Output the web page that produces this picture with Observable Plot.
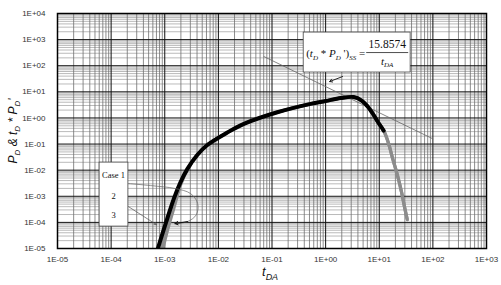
<!DOCTYPE html>
<html><head><meta charset="utf-8">
<script src="https://cdn.jsdelivr.net/npm/d3@7"></script>
<script src="https://cdn.jsdelivr.net/npm/@observablehq/plot@0.6"></script>
<style>body{margin:0;background:#fff} svg{display:block}</style>
</head><body><div id="chart"></div>
<script>
// ---- tick values ----
const xMajor = [1e-5, 1e-4, 1e-3, 1e-2, 1e-1, 1, 1e1, 1e2, 1e3];
const yMajor = [1e-5, 1e-4, 1e-3, 1e-2, 1e-1, 1, 1e1, 1e2, 1e3, 1e4];
const minorSteps = [2, 3, 4, 5, 6, 7, 8, 9];

// ---- Case 1 (black) ----
const case1T = [6.73e-4, 8.36e-4, 1.114e-3, 1.479e-3, 1.972e-3, 2.63e-3, 4.04e-3, 6.21e-3, 1.466e-2, 2.99e-2, 0.1256, 0.525, 1.0, 1.905, 3.33, 4.70, 6.08, 7.54, 9.33, 12.08];
const case1Y = [4.9e-6, 2.19e-5, 1.40e-4, 8.17e-4, 3.50e-3, 1.10e-2, 3.79e-2, 9.16e-2, 0.276, 0.594, 1.65, 3.47, 4.45, 5.78, 6.32, 4.64, 2.74, 1.48, 0.728, 0.329];

// ---- Case 2 (grey) ----
const case2T = [8.36e-4, 1.035e-3, 1.40e-3, 1.972e-3, 2.63e-3, 4.04e-3, 6.21e-3, 1.466e-2, 2.99e-2, 0.1256, 0.525, 1.0, 1.905, 3.33, 4.70, 6.08, 7.54, 9.33, 12.08, 14.96, 17.8, 22.0, 26.2, 29.8, 33.4];
const case2Y = [6.97e-6, 4.07e-5, 3.38e-4, 3.07e-3, 1.05e-2, 3.79e-2, 9.16e-2, 0.276, 0.594, 1.65, 3.47, 4.45, 5.78, 6.32, 4.64, 2.74, 1.48, 0.728, 0.329, 0.1045, 0.0278, 6.2e-3, 1.39e-3, 3.69e-4, 1.26e-4];

// ---- Case 3 (grey) ----
const case3T = [8.9e-4, 1.09e-3, 1.46e-3, 2.0e-3, 2.64e-3, 4.04e-3, 6.21e-3, 1.466e-2, 2.99e-2, 0.1256, 0.525, 1.0, 1.905, 3.33, 4.70, 6.08, 7.54, 9.33, 12.08, 14.8, 17.6, 21.7, 25.9, 29.5, 33.0];
const case3Y = [6.97e-6, 3.9e-5, 3.2e-4, 2.9e-3, 1.03e-2, 3.79e-2, 9.16e-2, 0.276, 0.594, 1.65, 3.47, 4.45, 5.78, 6.32, 4.64, 2.74, 1.48, 0.728, 0.329, 0.11, 0.03, 6.6e-3, 1.5e-3, 4.0e-4, 1.4e-4];

// ---- steady-state line (tD*PD')ss = 15.8574 / tDA ----
const ssConst = 15.8574;
const ssT = [0.0708, 100];

// ---- annotation anchors (data space) ----
const formulaBox = {x1: 0.39, x2: 38.5, y1: 55, y2: 1862};
const caseBox = {x1: 6.1e-5, x2: 2.1e-4, y1: 6.9e-5, y2: 0.0195};
const caseLabels = ["Case 1", "2", "3"];
const case1LeaderT = [2.11e-4, 5.4e-4, 1.59e-3, 3.03e-3, 4.1e-3, 3.9e-3, 2.66e-3, 1.55e-3];
const case1LeaderY = [3.07e-3, 2.57e-3, 1.97e-3, 1.27e-3, 5.4e-4, 2.0e-4, 1.07e-4, 9.0e-5];
const case3Arrow = {x1: 2.11e-4, y1: 4.0e-4, x2: 7.0e-4, y2: 8.2e-5};
const formulaArrow = {x1: 2.07, y1: 38.5, x2: 1.19, y2: 24.8};

const fmt = d => { const e = Math.round(Math.log10(d)); return "1E" + (e < 0 ? "-" : "+") + String(Math.abs(e)).padStart(2, "0"); };
const minor = majors => majors.slice(0, -1).flatMap(m => minorSteps.map(k => m * k));
const toRows = (T, Y) => T.map((t, i) => ({t, y: Y[i]}));

const plot = Plot.plot({
  width: 501, height: 285,
  marginLeft: 57, marginRight: 15, marginTop: 13, marginBottom: 37,
  style: {fontFamily: "Liberation Sans, Arial, sans-serif", fontSize: "8px", background: "#fff", overflow: "visible"},
  x: {type: "log", domain: [1e-5, 1e3]},
  y: {type: "log", domain: [1e-5, 1e4]},
  marks: [
    Plot.ruleY(minor(yMajor), {stroke: "#a8a8a8", strokeWidth: 0.8}),
    Plot.ruleX(minor(xMajor), {stroke: "#707070", strokeWidth: 0.8}),
    Plot.ruleY(yMajor, {stroke: "#111", strokeWidth: 1}),
    Plot.ruleX(xMajor, {stroke: "#111", strokeWidth: 1}),
    Plot.axisX({ticks: xMajor, tickFormat: fmt, tickSize: 0, tickPadding: 8, fill: "#333", label: null}),
    Plot.axisY({ticks: yMajor, tickFormat: fmt, tickSize: 0, tickPadding: 12, fill: "#333", label: null}),
    Plot.line(ssT.map(t => ({t, y: ssConst / t})), {x: "t", y: "y", stroke: "#666", strokeWidth: 0.8}),
    Plot.line(toRows(case3T, case3Y), {x: "t", y: "y", stroke: "#8c8c8c", strokeWidth: 3.2, curve: "catmull-rom", clip: true}),
    Plot.line(toRows(case2T, case2Y), {x: "t", y: "y", stroke: "#8c8c8c", strokeWidth: 3.2, curve: "catmull-rom", clip: true}),
    Plot.line(toRows(case1T, case1Y), {x: "t", y: "y", stroke: "#000", strokeWidth: 4, curve: "catmull-rom", clip: true}),
    Plot.rect([formulaBox], {x1: "x1", x2: "x2", y1: "y1", y2: "y2", fill: "#fff", stroke: "#444", strokeWidth: 0.8}),
    Plot.rect([caseBox], {x1: "x1", x2: "x2", y1: "y1", y2: "y2", fill: "#fff", stroke: "#444", strokeWidth: 0.8}),
    Plot.line(toRows(case1LeaderT, case1LeaderY), {x: "t", y: "y", stroke: "#666", strokeWidth: 0.7, curve: "catmull-rom"}),
    Plot.arrow([{x1: case1LeaderT[6], y1: case1LeaderY[6], x2: case1LeaderT[7], y2: case1LeaderY[7]}], {x1: "x1", y1: "y1", x2: "x2", y2: "y2", stroke: "#111", strokeWidth: 1, headLength: 5}),
    Plot.arrow([case3Arrow], {x1: "x1", y1: "y1", x2: "x2", y2: "y2", stroke: "#555", strokeWidth: 0.7, headLength: 5}),
    Plot.arrow([formulaArrow], {x1: "x1", y1: "y1", x2: "x2", y2: "y2", stroke: "#111", strokeWidth: 0.9, headLength: 5}),
    Plot.frame({stroke: "#000", strokeWidth: 1.5})
  ]
});
document.getElementById("chart").appendChild(plot);

const svg = d3.select(plot);
const X = v => plot.scale("x").apply(v), Y = v => plot.scale("y").apply(v);
const serif = "Liberation Serif, Times New Roman, serif";

// formula text
const bx = X(formulaBox.x1), by = Y(formulaBox.y2);
const g = svg.append("g").attr("font-family", serif).attr("fill", "#111");
const left = g.append("text").attr("x", bx + 3).attr("y", by + 25).attr("font-size", 11).attr("text-anchor", "start");
left.append("tspan").text("(");
left.append("tspan").attr("font-style", "italic").text("t");
left.append("tspan").attr("font-size", 7).attr("dy", 3).attr("font-style", "italic").text("D");
left.append("tspan").attr("dy", -3).text(" * ");
left.append("tspan").attr("font-style", "italic").text("P");
left.append("tspan").attr("font-size", 7).attr("dy", 3).attr("font-style", "italic").text("D");
left.append("tspan").attr("dy", -3).text(" ')");
left.append("tspan").attr("font-size", 7).attr("dy", 3).attr("font-style", "italic").text("SS");
left.append("tspan").attr("dy", -3).text(" =");
const fc = bx + 84;
g.append("text").attr("x", fc).attr("y", by + 16).attr("text-anchor", "middle").attr("font-size", 11.5).text("15.8574");
g.append("line").attr("x1", fc - 21).attr("x2", fc + 21).attr("y1", by + 20.5).attr("y2", by + 20.5).attr("stroke", "#222").attr("stroke-width", 0.8);
const den = g.append("text").attr("x", fc).attr("y", by + 33).attr("text-anchor", "middle").attr("font-size", 11).attr("font-style", "italic");
den.append("tspan").text("t");
den.append("tspan").attr("font-size", 7).attr("dy", 2).text("DA");

// case labels
const cx = (X(caseBox.x1) + X(caseBox.x2)) / 2, cy = Y(caseBox.y2);
const offs = [16, 37, 56];
caseLabels.forEach((s, i) => {
  svg.append("text").attr("x", cx).attr("y", cy + offs[i]).attr("text-anchor", "middle")
    .attr("font-family", serif).attr("font-size", 8.5).attr("fill", "#111").text(s);
});

// axis titles
const xl = svg.append("text").attr("x", 262).attr("y", 276).attr("text-anchor", "start").attr("font-size", 13).attr("font-style", "italic").attr("fill", "#111");
xl.append("tspan").text("t");
xl.append("tspan").attr("font-size", 9).attr("dy", 4).text("DA");

const yl = svg.append("text").attr("transform", "translate(17,131) rotate(-90)").attr("text-anchor", "middle")
  .attr("font-size", 12).attr("font-style", "italic").attr("fill", "#111");
yl.append("tspan").text("P");
yl.append("tspan").attr("font-size", 8).attr("dy", 3).text("D");
yl.append("tspan").attr("dy", -3).text(" & t");
yl.append("tspan").attr("font-size", 8).attr("dy", 3).text("D");
yl.append("tspan").attr("dy", -3).text(" * P");
yl.append("tspan").attr("font-size", 8).attr("dy", 3).text("D");
yl.append("tspan").attr("dy", -3).text("'");
</script></body></html>
